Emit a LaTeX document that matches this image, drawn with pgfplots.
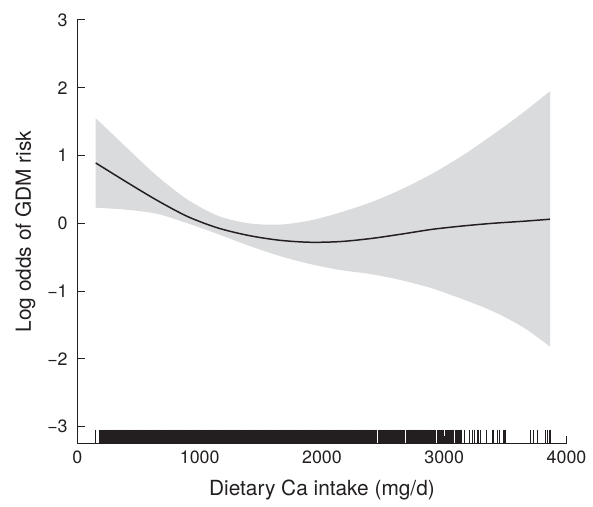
\documentclass[border=0pt]{standalone}
\usepackage{fontspec}
\setmainfont{TeX Gyre Heros}
\usepackage{pgfplots}
\usepackage{pgfplotstable}
\pgfplotsset{compat=1.18}
\usepgfplotslibrary{fillbetween}
\usetikzlibrary{plotmarks}

\definecolor{bandgray}{RGB}{218,219,221}
\definecolor{ink}{RGB}{35,31,32}

% spline fit with 95% band
\pgfplotstableread{
x     up     lo     fit
150   1.55   0.23   0.89
400   1.12   0.20   0.61
650   0.70   0.14   0.34
900   0.35   0.00   0.10
1150  0.11  -0.16  -0.07
1400  0.00  -0.33  -0.18
1650 -0.02  -0.48  -0.25
1900  0.04  -0.60  -0.28
2150  0.16  -0.69  -0.27
2400  0.31  -0.75  -0.225
2650  0.50  -0.84  -0.16
2900  0.73  -0.96  -0.09
3150  1.00  -1.12  -0.04
3400  1.31  -1.30   0.00
3650  1.64  -1.54   0.03
3865  1.95  -1.82   0.06
}\fittable

% observed intakes (rug), dense part; y = rug position
\pgfplotstableread[row sep=\\]{
x y\\
184 -3.145\\ 196 -3.145\\ 207 -3.145\\ 219 -3.145\\ 232 -3.145\\ 243 -3.145\\ 255 -3.145\\ 266 -3.145\\ 279 -3.145\\ 290 -3.145\\
302 -3.145\\ 314 -3.145\\ 325 -3.145\\ 337 -3.145\\ 349 -3.145\\ 361 -3.145\\ 372 -3.145\\ 384 -3.145\\ 397 -3.145\\ 408 -3.145\\
420 -3.145\\ 431 -3.145\\ 443 -3.145\\ 456 -3.145\\ 467 -3.145\\ 479 -3.145\\ 490 -3.145\\ 502 -3.145\\ 514 -3.145\\ 526 -3.145\\
537 -3.145\\ 549 -3.145\\ 561 -3.145\\ 573 -3.145\\ 584 -3.145\\ 596 -3.145\\ 608 -3.145\\ 620 -3.145\\ 631 -3.145\\ 643 -3.145\\
655 -3.145\\ 667 -3.145\\ 678 -3.145\\ 690 -3.145\\ 702 -3.145\\ 714 -3.145\\ 725 -3.145\\ 737 -3.145\\ 749 -3.145\\ 761 -3.145\\
772 -3.145\\ 784 -3.145\\ 796 -3.145\\ 808 -3.145\\ 819 -3.145\\ 831 -3.145\\ 843 -3.145\\ 855 -3.145\\ 866 -3.145\\ 878 -3.145\\
890 -3.145\\ 902 -3.145\\ 913 -3.145\\ 925 -3.145\\ 937 -3.145\\ 949 -3.145\\ 960 -3.145\\ 972 -3.145\\ 984 -3.145\\ 996 -3.145\\
1007 -3.145\\ 1019 -3.145\\ 1031 -3.145\\ 1043 -3.145\\ 1054 -3.145\\ 1066 -3.145\\ 1078 -3.145\\ 1090 -3.145\\ 1101 -3.145\\ 1113 -3.145\\
1125 -3.145\\ 1137 -3.145\\ 1148 -3.145\\ 1160 -3.145\\ 1172 -3.145\\ 1184 -3.145\\ 1195 -3.145\\ 1207 -3.145\\ 1219 -3.145\\ 1231 -3.145\\
1242 -3.145\\ 1254 -3.145\\ 1266 -3.145\\ 1278 -3.145\\ 1289 -3.145\\ 1301 -3.145\\ 1313 -3.145\\ 1325 -3.145\\ 1336 -3.145\\ 1348 -3.145\\
1360 -3.145\\ 1372 -3.145\\ 1383 -3.145\\ 1395 -3.145\\ 1407 -3.145\\ 1419 -3.145\\ 1430 -3.145\\ 1442 -3.145\\ 1454 -3.145\\ 1466 -3.145\\
1477 -3.145\\ 1489 -3.145\\ 1501 -3.145\\ 1513 -3.145\\ 1524 -3.145\\ 1536 -3.145\\ 1548 -3.145\\ 1560 -3.145\\ 1571 -3.145\\ 1583 -3.145\\
1595 -3.145\\ 1607 -3.145\\ 1618 -3.145\\ 1630 -3.145\\ 1642 -3.145\\ 1654 -3.145\\ 1665 -3.145\\ 1677 -3.145\\ 1689 -3.145\\ 1701 -3.145\\
1712 -3.145\\ 1724 -3.145\\ 1736 -3.145\\ 1748 -3.145\\ 1759 -3.145\\ 1771 -3.145\\ 1783 -3.145\\ 1795 -3.145\\ 1806 -3.145\\ 1818 -3.145\\
1830 -3.145\\ 1842 -3.145\\ 1853 -3.145\\ 1865 -3.145\\ 1877 -3.145\\ 1889 -3.145\\ 1900 -3.145\\ 1912 -3.145\\ 1924 -3.145\\ 1936 -3.145\\
1947 -3.145\\ 1959 -3.145\\ 1971 -3.145\\ 1983 -3.145\\ 1994 -3.145\\ 2006 -3.145\\ 2018 -3.145\\ 2030 -3.145\\ 2041 -3.145\\ 2053 -3.145\\
2065 -3.145\\ 2077 -3.145\\ 2088 -3.145\\ 2100 -3.145\\ 2112 -3.145\\ 2124 -3.145\\ 2135 -3.145\\ 2147 -3.145\\ 2159 -3.145\\ 2171 -3.145\\
2182 -3.145\\ 2194 -3.145\\ 2206 -3.145\\ 2218 -3.145\\ 2229 -3.145\\ 2241 -3.145\\ 2253 -3.145\\ 2265 -3.145\\ 2276 -3.145\\ 2288 -3.145\\
2300 -3.145\\ 2312 -3.145\\ 2323 -3.145\\ 2335 -3.145\\ 2347 -3.145\\ 2359 -3.145\\ 2370 -3.145\\ 2382 -3.145\\ 2394 -3.145\\ 2406 -3.145\\
2417 -3.145\\ 2429 -3.145\\ 2441 -3.145\\ 2464 -3.145\\ 2476 -3.145\\ 2488 -3.145\\ 2500 -3.145\\ 2512 -3.145\\ 2524 -3.145\\ 2536 -3.145\\
2548 -3.145\\ 2560 -3.145\\ 2572 -3.145\\ 2585 -3.145\\ 2592 -3.145\\ 2599 -3.145\\ 2612 -3.145\\ 2620 -3.145\\ 2628 -3.145\\ 2636 -3.145\\
2644 -3.145\\ 2652 -3.145\\ 2660 -3.145\\ 2667 -3.145\\ 2694 -3.145\\ 2703 -3.145\\ 2712 -3.145\\ 2721 -3.145\\ 2730 -3.145\\ 2739 -3.145\\
2748 -3.145\\ 2755 -3.145\\ 2761 -3.145\\ 2775 -3.145\\ 2786 -3.145\\ 2797 -3.145\\ 2808 -3.145\\ 2819 -3.145\\ 2830 -3.145\\ 2841 -3.145\\
2856 -3.145\\ 2870 -3.145\\ 2880 -3.145\\ 2891 -3.145\\ 2902 -3.145\\ 2913 -3.145\\ 2923 -3.145\\ 2951 -3.145\\ 2960 -3.145\\ 2970 -3.145\\
2978 -3.145\\ 3018 -3.145\\ 3028 -3.145\\ 3038 -3.145\\ 3049 -3.145\\ 3060 -3.145\\ 3072 -3.145\\ 3099 -3.145\\ 3112 -3.145\\
3126 -3.145\\ 3140 -3.145\\
}\rugdense

% observed intakes (rug), isolated values
\pgfplotstableread[row sep=\\]{
x y\\ 150 -3.145\\ 2991 -3.145\\
3167 -3.145\\ 3207 -3.145\\ 3234 -3.145\\ 3248 -3.145\\ 3270 -3.145\\ 3283 -3.145\\ 3297 -3.145\\ 3343 -3.145\\
3392 -3.145\\ 3405 -3.145\\ 3438 -3.145\\ 3451 -3.145\\ 3483 -3.145\\ 3497 -3.145\\ 3708 -3.145\\ 3727 -3.145\\ 3762 -3.145\\ 3830 -3.145\\
3843 -3.145\\ 3865 -3.145\\
}\rugsparse

\begin{document}
\begin{tikzpicture}
\begin{axis}[
    scale only axis,
    width=246.5pt, height=213.5pt,
    xmin=0, xmax=4000,
    ymin=-3.25, ymax=3,
    axis lines=left,
    axis line style={-, line width=0.5pt, ink},
    tick align=inside,
    major tick length=4pt,
    tick style={line width=0.5pt, ink},
    xtick={0,1000,2000,3000,4000},
    xticklabels={0,1000,2000,3000,4000},
    ytick={-3,-2,-1,0,1,2,3},
    yticklabels={−3,−2,−1,0,1,2,3},
    ticklabel style={font=\fontsize{9}{10}\selectfont, text=ink},
    yticklabel style={xshift=-1.4pt},
    xlabel={Dietary Ca intake (mg/d)},
    ylabel={Log odds of GDM risk},
    label style={font=\fontsize{10.5}{12}\selectfont, text=ink},
    xlabel style={at={(axis cs:2000,-4.01)}, anchor=base},
    ylabel style={at={(axis cs:-381,-0.125)}, anchor=base},
    clip=false,
]
\addplot[name path=up, draw=none, smooth] table[x=x, y=up] {\fittable};
\addplot[name path=lo, draw=none, smooth] table[x=x, y=lo] {\fittable};
\addplot[fill=bandgray, draw=none] fill between[of=up and lo];
\addplot[ink, line width=0.75pt, smooth] table[x=x, y=fit] {\fittable};
\addplot[only marks, mark=|, mark size=3.5pt,
    mark options={line width=1pt, ink}]
    table[x=x, y=y] {\rugdense};
\addplot[only marks, mark=|, mark size=3.5pt,
    mark options={line width=0.55pt, ink}]
    table[x=x, y=y] {\rugsparse};
\coordinate (bl) at (axis cs:-633,-4.056);
\coordinate (tr) at (axis cs:4178,3.294);
\end{axis}
\path (bl) rectangle (tr);
\end{tikzpicture}
\end{document}
